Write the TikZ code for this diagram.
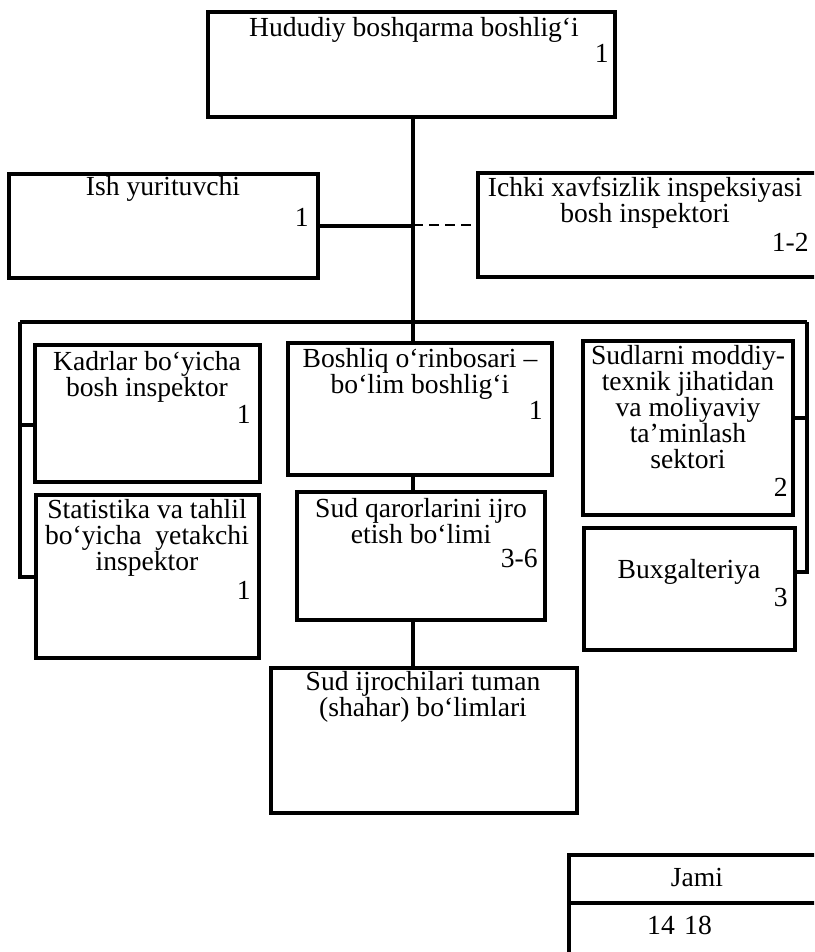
\documentclass[tikz,border=0pt]{standalone}
\usepackage{fontspec}
\setmainfont{Liberation Serif}
\usetikzlibrary{fit}

\begin{document}
\begin{tikzpicture}[x=0.5pt, y=-0.5pt,
  box/.style={draw, line width=1.6pt, inner sep=0pt},
  link/.style={line width=1.6pt},
  txt/.style={align=center, inner sep=0pt, font=\fontsize{13.8}{13.1}\selectfont},
  num/.style={anchor=east, inner sep=0pt, font=\fontsize{13.8}{13.1}\selectfont}]
\useasboundingbox (0,0) rectangle (814,952);
\clip (0,0) rectangle (814,952);

% Head of the regional office on top
\node[box, fit={(208,12) (615,117)}] (head) {};
\node[txt] (headtxt) at (414,30) {Hududiy boshqarma boshlig‘i};
\node[num] (headnum) at (609,53) {1};

% Clerk on the left, inspector on the right
\node[box, fit={(9,174) (318,278)}] (clerk) {};
\node[txt] (clerktxt) at (163,189) {Ish yurituvchi};
\node[num] (clerknum) at (309,217) {1};
\node[box, fit={(478,173) (830,277)}] (insp) {};
\node[txt] (insptxt) at (645,203) {Ichki xavfsizlik inspeksiyasi\\bosh inspektori};
\node[num] (inspnum) at (809,242) {1-2};

% Left column
\node[box, fit={(35,345) (260,482)}] (kadr) {};
\node[txt] (kadrtxt) at (147,377) {Kadrlar bo‘yicha\\bosh inspektor};
\node[num] (kadrnum) at (251,414) {1};
\node[box, fit={(36,495) (259,658)}] (stat) {};
\node[txt] (stattxt) at (147,538) {Statistika va tahlil\\bo‘yicha\ \ yetakchi\\inspektor};
\node[num] (statnum) at (251,590) {1};

% Middle column
\node[box, fit={(288,343) (552,475)}] (dep) {};
\node[txt] (deptxt) at (420,374) {Boshliq o‘rinbosari –\\bo‘lim boshlig‘i};
\node[num] (depnum) at (543,410) {1};
\node[box, fit={(297,492) (545,620)}] (ijro) {};
\node[txt] (ijrotxt) at (421,521) {Sud qarorlarini ijro\\etish bo‘limi};
\node[num] (ijronum) at (538,558) {3-6};
\node[box, fit={(271,668) (577,813)}] (tuman) {};
\node[txt] (tumantxt) at (423,697) {Sud ijrochilari tuman\\(shahar) bo‘limlari};

% Right column
\node[box, fit={(583,341) (793,515)}] (sect) {};
\node[txt] (secttxt) at (688,407) {Sudlarni moddiy-\\texnik jihatidan\\va moliyaviy\\ta’minlash\\sektori};
\node[num] (sectnum) at (788,487) {2};
\node[box, fit={(584,528) (795,650)}] (buxg) {};
\node[txt] (buxgtxt) at (689,572) {Buxgalteriya};
\node[num] (buxgnum) at (788,597) {3};

% Total table in the bottom right corner
\node[box, fit={(569,855) (830,975)}] (total) {};
\coordinate (mid) at (569,903);
\draw[link] (mid) -- (mid -| total.east);
\node[txt] (totaltxt) at (697,877) {Jami};
\node[txt] (total1) at (661,925) {14};
\node[txt] (total2) at (698,925) {18};

% Connectors
\coordinate (trunk) at (413,0);
\coordinate (lbar) at (20,322);
\coordinate (rbar) at (807,322);
\coordinate (lk) at (20,425);
\coordinate (ls) at (20,577);
\coordinate (rs) at (807,418);
\coordinate (rb) at (807,572);

\draw[link] (head.south -| trunk) -- (dep.north -| trunk);
\draw[link] (clerk.east) -- (clerk.east -| trunk);
\draw[line width=1pt, dash pattern=on 5pt off 3pt] (insp.west -| trunk) -- (insp.west);
\draw[link] (lbar) -- (rbar);
\draw[link] (lbar) -- (ls) -- (ls -| stat.west);
\draw[link] (lk) -- (lk -| kadr.west);
\draw[link] (rbar) -- (rb) -- (rb -| buxg.east);
\draw[link] (rs) -- (rs -| sect.east);
\draw[link] (dep.south -| trunk) -- (ijro.north -| trunk);
\draw[link] (ijro.south -| trunk) -- (tuman.north -| trunk);

\end{tikzpicture}
\end{document}
